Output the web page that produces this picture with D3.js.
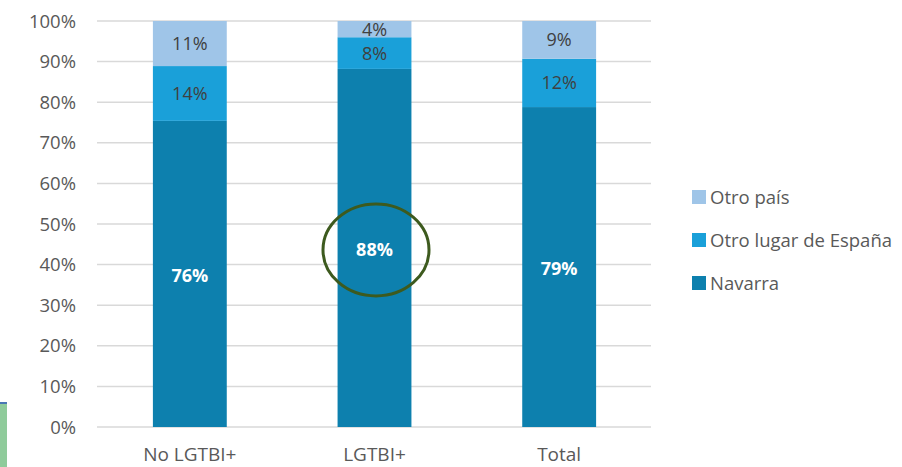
<!DOCTYPE html>
<html><head><meta charset="utf-8">
<script src="https://cdn.jsdelivr.net/npm/d3@7"></script>
<style>body{margin:0;background:#fff}svg{display:block}text{font-family:"Open Sans",sans-serif}</style>
</head><body>
<svg id="c" width="902" height="467"></svg>
<script>
const categories = ["No LGTBI+", "LGTBI+", "Total"];
const seriesNames = ["Navarra", "Otro lugar de España", "Otro país"];
const navarra = [75.4, 88.2, 78.8];
const otroLugar = [13.5, 7.8, 11.9];
const otroPais = [11.1, 4.0, 9.3];
const labelNavarra = ["76%", "88%", "79%"];
const labelOtroLugar = ["14%", "8%", "12%"];
const labelOtroPais = ["11%", "4%", "9%"];
const yTicks = [0,10,20,30,40,50,60,70,80,90,100];
const colors = ["#0d80ae", "#1aa0d9", "#9fc5e8"];

const svg = d3.select("#c");
const x = d3.scaleBand().domain(categories).range([97.5, 651.5]).paddingInner(0.6).paddingOuter(0.3);
const y = d3.scaleLinear().domain([0,100]).range([427, 21]);

// decoration at bottom-left
svg.append("rect").attr("x",0).attr("y",403).attr("width",7).attr("height",64).attr("fill","#8fcb9b");
svg.append("rect").attr("x",0).attr("y",402).attr("width",7).attr("height",2).attr("fill","#4a77b4");

// grid
svg.append("g").selectAll("line").data(yTicks).join("line")
  .attr("x1",97).attr("x2",651).attr("y1",d=>y(d)).attr("y2",d=>y(d))
  .attr("stroke","#d9d9d9").attr("stroke-width",1.5);
svg.append("g").selectAll("text").data(yTicks).join("text")
  .attr("x",76).attr("y",d=>y(d)+6.5).attr("text-anchor","end")
  .attr("font-size",18.5).attr("fill","#595959").text(d=>d+"%");

const rows = categories.map((c,i)=>({cat:c, Navarra:navarra[i], "Otro lugar de España":otroLugar[i], "Otro país":otroPais[i]}));
const stack = d3.stack().keys(seriesNames)(rows);
const labels = [labelNavarra, labelOtroLugar, labelOtroPais];

stack.forEach((s,si)=>{
  svg.append("g").selectAll("rect").data(s).join("rect")
    .attr("x",d=>x(d.data.cat)).attr("width",x.bandwidth())
    .attr("y",d=>y(d[1])).attr("height",d=>y(d[0])-y(d[1]))
    .attr("fill",colors[si]);
});
stack.forEach((s,si)=>{
  svg.append("g").selectAll("text").data(s).join("text")
    .attr("x",d=>x(d.data.cat)+x.bandwidth()/2)
    .attr("y",d=>(y(d[0])+y(d[1]))/2+(si===0?8:6.5))
    .attr("text-anchor","middle")
    .attr("font-size",18)
    .attr("font-weight",si===0?"bold":"normal")
    .attr("fill",si===0?"#ffffff":"#404040")
    .text((d,i)=>labels[si][i]);
});

// category axis labels
svg.append("g").selectAll("text").data(categories).join("text")
  .attr("x",d=>x(d)+x.bandwidth()/2).attr("y",461).attr("text-anchor","middle")
  .attr("font-size",19).attr("fill","#595959").text(d=>d);

// legend
const legendItems = [["Otro país",colors[2]],["Otro lugar de España",colors[1]],["Navarra",colors[0]]];
const lg = svg.append("g").selectAll("g").data(legendItems).join("g")
  .attr("transform",(d,i)=>`translate(692,${197+i*43})`);
lg.append("rect").attr("x",0).attr("y",-7).attr("width",14).attr("height",14).attr("fill",d=>d[1]);
lg.append("text").attr("x",18).attr("y",7).attr("font-size",18.5).attr("fill","#595959").text(d=>d[0]);

// highlight ellipse around LGTBI+ Navarra label
const cx = x("LGTBI+")+x.bandwidth()/2 + 1.5;
const cy = (y(0)+y(navarra[1]))/2 + 2;
svg.append("ellipse").attr("cx",cx).attr("cy",cy).attr("rx",53).attr("ry",46)
  .attr("fill","none").attr("stroke","#3d5a1e").attr("stroke-width",3);
</script>
</body></html>
